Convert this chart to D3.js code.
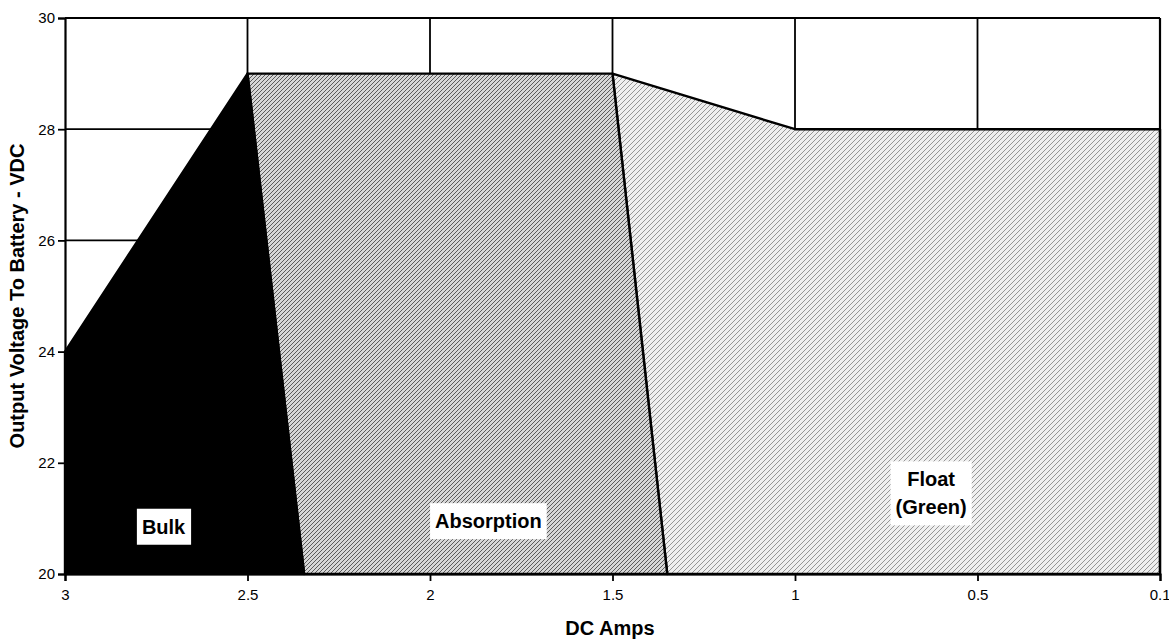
<!DOCTYPE html>
<html lang="en">
    <head>
        <meta charset="utf-8" />
        <title>Charging stages</title>
        <style>
            body { margin: 0; background: #fff; }
            svg text { font-family: "Liberation Sans", Arial, sans-serif; fill: #000; }
            .tick-label { font-size: 15px; }
            .axis-title { font-size: 20px; font-weight: bold; }
            .stage-label { font-size: 20px; font-weight: bold; }
        </style>
        <script src="https://cdn.jsdelivr.net/npm/d3@7"></script>
    </head>
    <body>
        <script>
            // x axis is categorical-looking: equal spacing between these amp values
            var ampTicks = [3, 2.5, 2, 1.5, 1, 0.5, 0.1];
            var voltTicks = [20, 22, 24, 26, 28, 30];

            // stage regions, as (amps, volts) corners
            var bulkAmps = [3, 2.5, 2.345, 3];
            var bulkVolts = [24, 29, 20, 20];
            var absorptionAmps = [2.5, 1.5, 1.35, 2.345];
            var absorptionVolts = [29, 29, 20, 20];
            var floatAmps = [1.5, 1, 0.1, 0.1, 1.35];
            var floatVolts = [29, 28, 28, 20, 20];

            var stageNames = [['Bulk'], ['Absorption'], ['Float', '(Green)']];
            var stageLabelAmps = [2.73, 1.84, 0.627];
            var stageLabelVolts = [20.85, 20.95, 21.45];

            // note: "top" is a reserved window property, so use plot* names
            var width = 1169, height = 640,
                plotLeft = 65, plotRight = 1160, plotTop = 18, plotBottom = 574;

            var step = (plotRight - plotLeft) / (ampTicks.length - 1);
            // piecewise linear scale so each labelled amp value gets an equal slot
            var x = d3.scaleLinear()
                .domain(ampTicks)
                .range(ampTicks.map(function(d, i) { return plotLeft + i * step; }));
            var y = d3.scaleLinear().domain([20, 30]).range([plotBottom, plotTop]);

            var svg = d3.select('body').append('svg')
                .attr('width', width)
                .attr('height', height);

            // stipple-ish fills (scanned print look)
            var defs = svg.append('defs');
            var pDark = defs.append('pattern')
                .attr('id', 'stippleDark').attr('patternUnits', 'userSpaceOnUse')
                .attr('width', 4).attr('height', 4);
            pDark.append('rect').attr('width', 4).attr('height', 4).attr('fill', '#d6d6d6');
            pDark.append('path').attr('d', 'M0,4 L4,0 M-1,1 L1,-1 M3,5 L5,3')
                .attr('stroke', '#5a5a5a').attr('stroke-width', 1);

            var pLight = defs.append('pattern')
                .attr('id', 'stippleLight').attr('patternUnits', 'userSpaceOnUse')
                .attr('width', 5).attr('height', 5);
            pLight.append('rect').attr('width', 5).attr('height', 5).attr('fill', '#efefef');
            pLight.append('path').attr('d', 'M0,5 L5,0 M-1,1 L1,-1 M4,6 L6,4')
                .attr('stroke', '#7e7e7e').attr('stroke-width', 0.8);

            // grid, underneath the regions
            var grid = svg.append('g').attr('stroke', '#000').attr('stroke-width', 1.8);
            grid.selectAll('line.h').data(voltTicks.slice(1)).enter().append('line')
                .attr('x1', plotLeft).attr('x2', plotRight)
                .attr('y1', function(d) { return y(d); })
                .attr('y2', function(d) { return y(d); });
            grid.selectAll('line.v').data(ampTicks.slice(1)).enter().append('line')
                .attr('x1', function(d) { return x(d); })
                .attr('x2', function(d) { return x(d); })
                .attr('y1', plotTop).attr('y2', plotBottom);

            function corners(amps, volts) {
                return amps.map(function(a, i) { return [x(a), y(volts[i])]; });
            }
            var line = d3.line().curve(d3.curveLinearClosed);

            var regions = [
                { pts: corners(floatAmps, floatVolts), fill: 'url(#stippleLight)' },
                { pts: corners(absorptionAmps, absorptionVolts), fill: 'url(#stippleDark)' },
                { pts: corners(bulkAmps, bulkVolts), fill: '#000' }
            ];
            svg.append('g').selectAll('path').data(regions).enter().append('path')
                .attr('d', function(d) { return line(d.pts); })
                .attr('fill', function(d) { return d.fill; })
                .attr('stroke', '#000')
                .attr('stroke-width', 2.4)
                .attr('stroke-linejoin', 'round');

            // axes
            var yAxis = svg.append('g').attr('transform', 'translate(' + plotLeft + ',0)')
                .call(d3.axisLeft(y).tickValues(voltTicks).tickSize(7).tickPadding(3));
            var xAxis = svg.append('g').attr('transform', 'translate(0,' + plotBottom + ')')
                .call(d3.axisBottom(x).tickValues(ampTicks).tickSize(7).tickPadding(8)
                    .tickFormat(function(d) { return d; }));
            [xAxis, yAxis].forEach(function(a) {
                a.attr('font-family', null).attr('font-size', null);
                a.select('.domain').attr('stroke', '#000').attr('stroke-width', 2.2);
                a.selectAll('.tick line').attr('stroke', '#000').attr('stroke-width', 1.8);
                a.selectAll('.tick text').attr('class', 'tick-label');
            });
            // last x label sits at the page edge; nudge it in so it isn't clipped
            xAxis.selectAll('.tick text')
                .filter(function(d) { return d === ampTicks[ampTicks.length - 1]; })
                .attr('text-anchor', 'end').attr('dx', 10);

            // top and right frame
            svg.append('line').attr('x1', plotLeft).attr('x2', plotRight)
                .attr('y1', plotTop).attr('y2', plotTop)
                .attr('stroke', '#000').attr('stroke-width', 2.2);
            svg.append('line').attr('x1', plotRight).attr('x2', plotRight)
                .attr('y1', plotTop).attr('y2', plotBottom)
                .attr('stroke', '#000').attr('stroke-width', 2.2);

            svg.append('text').attr('class', 'axis-title')
                .attr('x', 610).attr('y', 635)
                .attr('text-anchor', 'middle').text('DC Amps');
            svg.append('text').attr('class', 'axis-title')
                .attr('transform', 'translate(24,' + 296 + ') rotate(-90)')
                .attr('text-anchor', 'middle').text('Output Voltage To Battery - VDC');

            // stage labels in white boxes
            stageNames.forEach(function(lines, i) {
                var g = svg.append('g')
                    .attr('transform', 'translate(' + x(stageLabelAmps[i]) + ',' + y(stageLabelVolts[i]) + ')');
                var box = g.append('rect').attr('fill', '#fff');
                var t = g.append('text').attr('class', 'stage-label').attr('text-anchor', 'middle');
                var lh = 28;
                lines.forEach(function(s, j) {
                    t.append('tspan').attr('x', 0)
                        .attr('y', (j - (lines.length - 1) / 2) * lh)
                        .attr('dy', '0.35em').text(s);
                });
                var bb = t.node().getBBox();
                box.attr('x', bb.x - 5).attr('y', bb.y - 7)
                    .attr('width', bb.width + 10).attr('height', bb.height + 14);
            });
        </script>
    </body>
</html>
